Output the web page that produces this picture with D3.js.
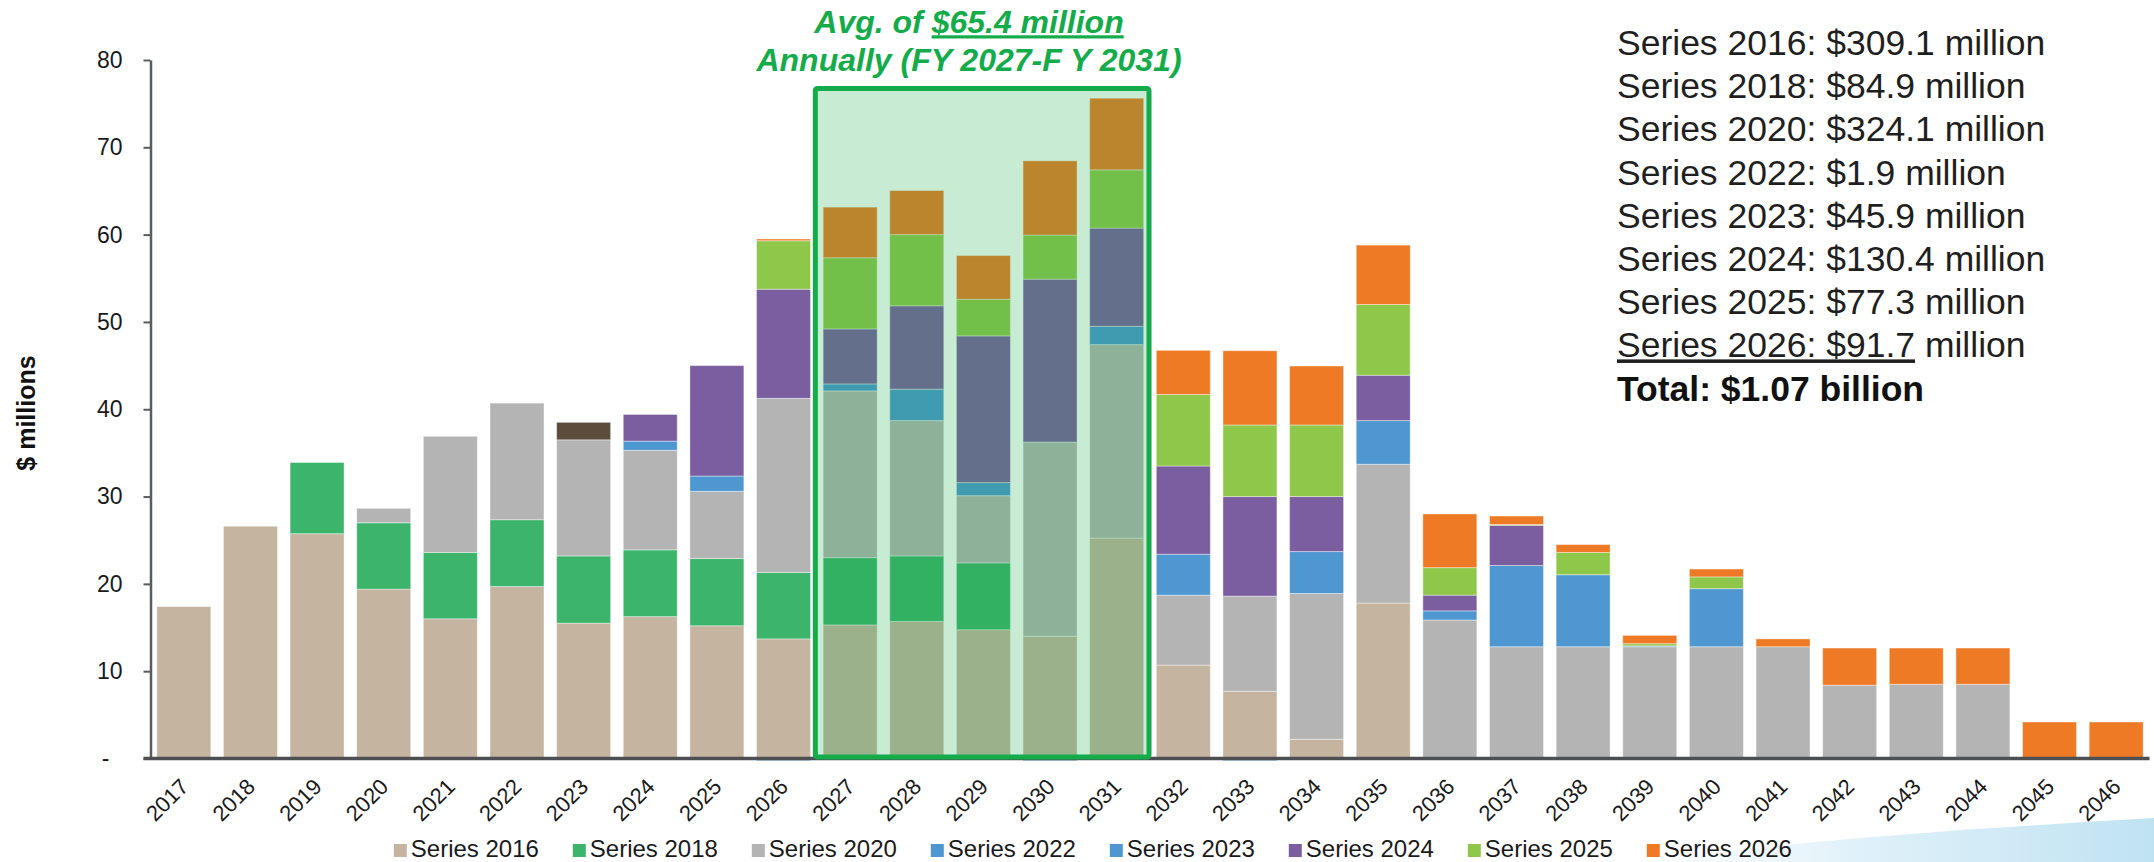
<!DOCTYPE html>
<html><head><meta charset="utf-8">
<script src="https://cdn.jsdelivr.net/npm/d3@7"></script>
<style>
body{margin:0;background:#fff}
svg{display:block}
text{font-family:"Liberation Sans",Arial,Helvetica,sans-serif}
</style>
</head><body>
<svg id="chart" width="2154" height="862"></svg>
<script>
// ---------- DATA ----------
const years = ["2017","2018","2019","2020","2021","2022","2023","2024","2025","2026",
               "2027","2028","2029","2030","2031","2032","2033","2034","2035","2036",
               "2037","2038","2039","2040","2041","2042","2043","2044","2045","2046"];

const seriesNames = ["Series 2016","Series 2018","Series 2020","Series 2022","Series 2023","Series 2024","Series 2025","Series 2026"];

const s2016 = [17.4,26.6,25.75,19.4,16.0,19.7,15.5,16.25,15.2,13.7, 15.3,15.7,14.75,14.0,25.25,10.7,7.7,2.2,17.8,0, 0,0,0,0,0,0,0,0,0,0];
const s2018 = [0,0,8.15,7.6,7.6,7.65,7.7,7.65,7.7,7.6, 7.7,7.5,7.65,0,0,0,0,0,0,0, 0,0,0,0,0,0,0,0,0,0];
const s2020 = [0,0,0,1.65,13.3,13.35,13.3,11.4,7.7,19.95, 19.1,15.5,7.7,22.25,22.15,8.0,10.9,16.7,15.9,15.86, 12.8,12.8,12.8,12.8,12.8,8.4,8.5,8.5,0,0];
const s2022 = [0,0,0,0,0,0,2.0,0,0,0, 0,0,0,0,0,0,0,0,0,0, 0,0,0,0,0,0,0,0,0,0];
const s2023 = [0,0,0,0,0,0,0,1.05,1.75,-0.25, 0.8,3.6,1.5,-0.25,2.1,4.7,-0.25,4.8,5.0,1.05, 9.3,8.25,0.1,6.65,0,0,0,0,0,0];
const s2024 = [0,0,0,0,0,0,0,3.05,12.65,12.5, 6.3,9.55,16.8,18.65,11.25,10.1,11.4,6.3,5.2,1.8, 4.6,0,0,0,0,0,0,0,0,0];
const s2025 = [0,0,0,0,0,0,0,0,0,5.55, 8.15,8.15,4.2,5.05,6.67,8.2,8.2,8.2,8.1,3.15, 0.1,2.55,0.25,1.35,0,0,0,0,0,0];
const s2026 = [0,0,0,0,0,0,0,0,0,0.2, 5.8,5.05,5.0,8.5,8.2,5.05,8.5,6.75,6.8,6.15, 0.97,0.9,0.95,0.9,0.9,4.25,4.15,4.15,4.18,4.18];

const yTicks = [0,10,20,30,40,50,60,70,80];

const barColors    = ["#C5B4A0","#3CB46B","#B4B4B4","#5C4C3C","#4F97D0","#7B5EA0","#8FC74A","#EE7A26"];
const legendColors = ["#C5B4A0","#3CB46B","#B4B4B4","#4F97D0","#4F97D0","#7B5EA0","#8FC74A","#EE7A26"];

const highlightYears = ["2027","2031"];
const highlightTop = 76.75;
const titleLine1a = "Avg. of ";
const titleLine1b = "$65.4 million";
const titleLine2 = "Annually (FY 2027-F Y 2031)";

const summaryLines = [
  "Series 2016: $309.1 million",
  "Series 2018: $84.9 million",
  "Series 2020: $324.1 million",
  "Series 2022: $1.9 million",
  "Series 2023: $45.9 million",
  "Series 2024: $130.4 million",
  "Series 2025: $77.3 million"
];
const summaryUnderlined = ["Series 2026: $91.7", " million"];
const summaryTotal = "Total: $1.07 billion";

// ---------- BUILD ----------
const allSeries = [s2016,s2018,s2020,s2022,s2023,s2024,s2025,s2026];
const rows = years.map((yr,i) => {
  const r = {year: yr};
  seriesNames.forEach((n,k) => r[n] = allSeries[k][i]);
  return r;
});

const svg = d3.select("#chart");
const green = "#14AC4A";

const x = d3.scaleBand().domain(years).range([150.5, 2149.5]).paddingInner(0.19).paddingOuter(0.095);
const y = d3.scaleLinear().domain([0,80]).range([758.5, 60]);

// decorative swoosh bottom-right
const defs = svg.append("defs");
const grad = defs.append("linearGradient").attr("id","sw").attr("x1","0").attr("x2","1").attr("y1","0").attr("y2","0");
grad.append("stop").attr("offset","0").attr("stop-color","#d8eef8").attr("stop-opacity",0);
grad.append("stop").attr("offset","0.45").attr("stop-color","#d3ebf7").attr("stop-opacity",0.75);
grad.append("stop").attr("offset","1").attr("stop-color","#bfe2f2").attr("stop-opacity",1);
svg.append("path")
  .attr("d","M1640,862 C1800,840 1980,828 2154,818 L2154,862 Z")
  .attr("fill","url(#sw)");

const stack = d3.stack().keys(seriesNames).offset(d3.stackOffsetDiverging);
const layers = stack(rows);

const gBars = svg.append("g");
layers.forEach((layer, k) => {
  gBars.append("g").attr("fill", barColors[k])
    .selectAll("rect")
    .data(layer.filter(d => d[1] !== d[0]))
    .join("rect")
    .attr("x", d => x(d.data.year))
    .attr("width", x.bandwidth())
    .attr("y", d => y(Math.max(d[0], d[1])))
    .attr("height", d => Math.abs(y(d[0]) - y(d[1])))
    .attr("stroke", "#ffffff")
    .attr("stroke-opacity", 0.4)
    .attr("stroke-width", 1);
});

// y axis
const yAxis = d3.axisLeft(y).tickValues(yTicks)
  .tickFormat(d => d === 0 ? "-" : d)
  .tickSize(7).tickSizeOuter(0).tickPadding(21);
const gy = svg.append("g").attr("transform","translate(150.5,0)").call(yAxis);
gy.select(".domain").attr("stroke","#595d62").attr("stroke-width",2.5);
gy.selectAll(".tick line").attr("stroke","#595d62").attr("stroke-width",2);
gy.selectAll(".tick text").attr("font-size",23).attr("fill","#1a1a1a")
  .attr("font-family",'"Liberation Sans",Arial,sans-serif');
gy.selectAll(".tick").filter(d => d === 0).select("text").attr("dx", -13);

// x axis
const xAxis = d3.axisBottom(x).tickSize(0).tickSizeOuter(0);
const gx = svg.append("g").attr("transform", `translate(0,${y(0)})`).call(xAxis);
gx.select(".domain").remove();
gx.append("line").attr("x1", x.range()[0] - 7).attr("x2", x.range()[1]).attr("y1",0).attr("y2",0)
  .attr("stroke","#4d4f52").attr("stroke-width",3.3);
gx.selectAll(".tick text")
  .attr("font-size",22).attr("fill","#1a1a1a")
  .attr("font-family",'"Liberation Sans",Arial,sans-serif')
  .attr("text-anchor","end").attr("y",0).attr("dy",0)
  .attr("transform","translate(6,29.5) rotate(-45)");

// y title
svg.append("text").attr("transform","translate(35,413) rotate(-90)")
  .attr("text-anchor","middle").attr("font-size",25).attr("font-weight","bold")
  .attr("fill","#111").text("$ millions");

// highlight box
const pad = x.step()*x.paddingInner()/2;
const bx0 = x(highlightYears[0]) - pad - 1.5;
const bx1 = x(highlightYears[1]) + x.bandwidth() + pad - 1;
const by0 = y(highlightTop);
const by1 = y(0) - 1.5;
svg.append("rect").attr("x",bx0).attr("y",by0).attr("width",bx1-bx0).attr("height",by1-by0)
  .attr("rx",2)
  .attr("fill",green).attr("fill-opacity",0.235)
  .attr("stroke",green).attr("stroke-width",5);

// title
const cx = 969;
const t1 = svg.append("text").attr("x",cx).attr("y",33.3).attr("text-anchor","middle")
  .attr("font-size",32).attr("font-weight","bold").attr("font-style","italic").attr("fill",green);
t1.append("tspan").text(titleLine1a);
t1.append("tspan").attr("text-decoration","underline").text(titleLine1b);
svg.append("text").attr("x",cx).attr("y",70.7).attr("text-anchor","middle")
  .attr("font-size",32).attr("font-weight","bold").attr("font-style","italic").attr("fill",green)
  .text(titleLine2);

// summary block
const sx = 1617, sy0 = 55, sdy = 43.2;
summaryLines.forEach((s,i) => {
  svg.append("text").attr("x",sx).attr("y",sy0 + i*sdy).attr("font-size",35.5).attr("fill","#1f1f1f").text(s);
});
const u = svg.append("text").attr("x",sx).attr("y",sy0 + 7*sdy).attr("font-size",35.5).attr("fill","#1f1f1f");
u.append("tspan").attr("text-decoration","underline").text(summaryUnderlined[0]);
u.append("tspan").text(summaryUnderlined[1]);
svg.append("text").attr("x",sx).attr("y",sy0 + 8*sdy).attr("font-size",35.5).attr("font-weight","bold")
  .attr("fill","#111").text(summaryTotal);

// legend
const lg = svg.append("g").attr("transform","translate(393.8,0)");
seriesNames.forEach((n,i) => {
  const g = lg.append("g").attr("transform",`translate(${i*179},0)`);
  g.append("rect").attr("x",0).attr("y",844).attr("width",13).attr("height",13).attr("fill",legendColors[i]);
  g.append("text").attr("x",17).attr("y",856.5).attr("font-size",24).attr("fill","#1a1a1a").text(n);
});
</script>
</body></html>
